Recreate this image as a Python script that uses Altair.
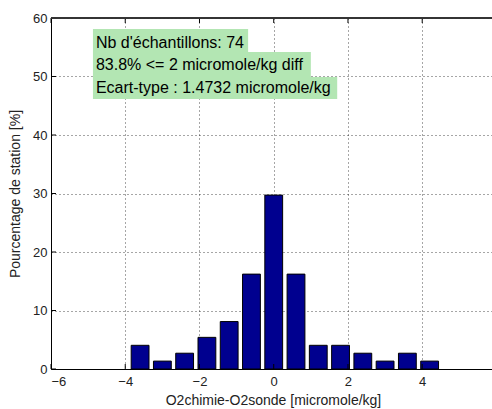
import altair as alt
import pandas as pd

# Histogram of O2 differences (bottle chemistry minus CTD sensor)
bin_centers = [-3.6, -3.0, -2.4, -1.8, -1.2, -0.6, 0.0, 0.6, 1.2, 1.8, 2.4, 3.0, 3.6, 4.2]
percent = [4.05, 1.35, 2.70, 5.41, 8.11, 16.22, 29.73, 16.22, 4.05, 4.05, 2.70, 1.35, 2.70, 1.35]

x_ticks = [-6, -4, -2, 0, 2, 4]
y_ticks = [0, 10, 20, 30, 40, 50, 60]

info_lines = [
    "Nb d'échantillons: 74",
    "83.8% <= 2 micromole/kg diff",
    "Ecart-type : 1.4732 micromole/kg",
]

FONT = "Liberation Sans"
BAR_WIDTH = 0.48
PLOT_W = 441
PLOT_H = 351
X_DOM = [-6, 5.88]   # the window cuts the axes just short of x = 6
Y_DOM = [0, 60]

bars_df = pd.DataFrame({"center": bin_centers, "pct": percent})
bars_df["left"] = bars_df["center"] - BAR_WIDTH / 2
bars_df["right"] = bars_df["center"] + BAR_WIDTH / 2

xs = alt.Scale(domain=X_DOM, nice=False, zero=False)
ys = alt.Scale(domain=Y_DOM, nice=False)

x_axis = alt.Axis(values=x_ticks, format="d", grid=True, ticks=False,
                  labelFontSize=13, labelPadding=6, titleFontSize=14,
                  titlePadding=5, title="O2chimie-O2sonde [micromole/kg]",
                  titleX=222)
y_axis = alt.Axis(values=y_ticks, format="d", grid=True, ticks=False,
                  labelFontSize=13, labelPadding=4, titleFontSize=14,
                  titlePadding=10, title="Pourcentage de station [%]")

bars = alt.Chart(bars_df).mark_rect(
    color="#00008F", stroke="#000000", strokeWidth=1
).encode(
    x=alt.X("left:Q", scale=xs, axis=x_axis),
    x2="right:Q",
    y=alt.Y("pct:Q", scale=ys, axis=y_axis),
    y2=alt.datum(0),
)

# inward tick marks, MATLAB style
xt_df = pd.DataFrame({"v": x_ticks})
yt_df = pd.DataFrame({"v": y_ticks})
xticks_bottom = alt.Chart(xt_df).mark_rule(color="#000", strokeWidth=1).encode(
    x=alt.X("v:Q", scale=xs), y=alt.value(PLOT_H), y2=alt.value(PLOT_H - 5))
xticks_top = alt.Chart(xt_df).mark_rule(color="#000", strokeWidth=1).encode(
    x=alt.X("v:Q", scale=xs), y=alt.value(0), y2=alt.value(5))
yticks_left = alt.Chart(yt_df).mark_rule(color="#000", strokeWidth=1).encode(
    y=alt.Y("v:Q", scale=ys), x=alt.value(0), x2=alt.value(5))

# top edge of the axes box
top_edge = alt.Chart(xt_df).mark_rule(color="#333", strokeWidth=1).encode(
    x=alt.value(0), x2=alt.value(PLOT_W), y=alt.value(0))

# annotation box: one green band per text line
ann_df = pd.DataFrame({
    "txt": info_lines,
    "x0": [-4.87, -4.87, -4.87],
    "x1": [-0.69, 1.00, 1.71],
    "y0": [58.12, 54.19, 49.91],
    "y1": [54.19, 49.91, 46.15],
    "ty": [54.87, 51.03, 47.18],
})
ann_bg = alt.Chart(ann_df).mark_rect(color="#B3E6B3").encode(
    x=alt.X("x0:Q", scale=xs), x2="x1:Q",
    y=alt.Y("y0:Q", scale=ys), y2="y1:Q",
)
ann_txt = alt.Chart(ann_df).mark_text(
    align="left", baseline="alphabetic", font=FONT, fontSize=16, color="#000", dx=3
).encode(
    x=alt.X("x0:Q", scale=xs), y=alt.Y("ty:Q", scale=ys), text="txt:N",
)

chart = alt.layer(
    bars, xticks_bottom, xticks_top, yticks_left, top_edge, ann_bg, ann_txt
).properties(
    width=PLOT_W, height=PLOT_H,
    padding={"left": 51, "top": 18, "right": 0, "bottom": 40},
    autosize=alt.AutoSizeParams(type="none"),
    background="#FFFFFF",
).configure_view(
    strokeOpacity=0
).configure_axis(
    labelFont=FONT, titleFont=FONT, labelColor="#222", titleColor="#222",
    titleFontWeight="normal", domainColor="#000", domainWidth=1,
    gridColor="#000", gridOpacity=0.7, gridDash=[1, 3], gridWidth=1,
)

chart.save("out.html", embed_options={"renderer": "svg", "actions": False})
